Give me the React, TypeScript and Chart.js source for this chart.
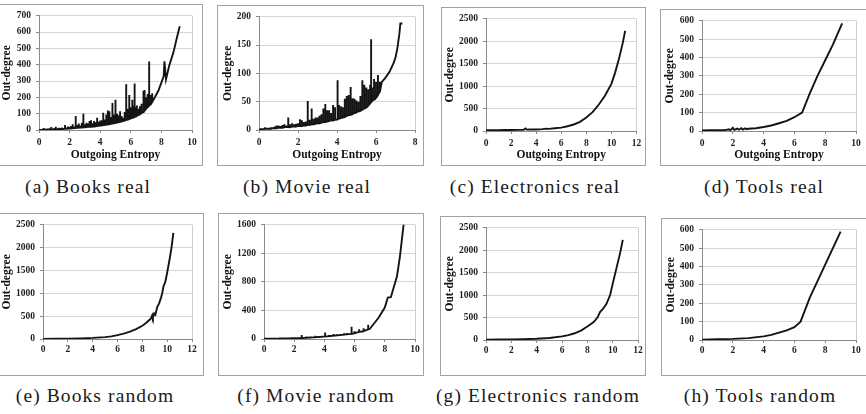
import React, { useEffect, useRef } from "react";
import { Chart, registerables } from "chart.js";

Chart.register(...registerables);

type Pt = [number, number];
// A spike is a vertical run at one entropy value: [x, lowest out-degree, highest out-degree]
type Spike = [number, number, number];

// ---- (a) Books real ----
const booksRealSpikes: Spike[] = [
  [0, 0, 1], [0.1, 1, 4], [0.2, 1, 6], [0.3, 2, 12], [0.4, 2, 5], [0.5, 3, 8], [0.6, 3, 6],
  [0.7, 3, 10], [0.8, 4, 18], [0.9, 4, 9], [1.0, 5, 12], [1.1, 5, 20], [1.2, 5, 10],
  [1.3, 6, 14], [1.4, 6, 12], [1.5, 7, 16], [1.6, 7, 12], [1.7, 8, 30], [1.8, 8, 16],
  [1.9, 9, 22], [2.0, 10, 18], [2.1, 10, 25], [2.2, 11, 35], [2.3, 12, 22], [2.4, 12, 85],
  [2.5, 13, 30], [2.6, 14, 40], [2.7, 15, 28], [2.8, 16, 45], [2.9, 16, 100], [3.0, 17, 35],
  [3.1, 18, 45], [3.2, 19, 40], [3.3, 20, 55], [3.4, 21, 60], [3.5, 21, 42], [3.6, 22, 55],
  [3.7, 23, 48], [3.8, 25, 75], [3.9, 26, 50], [4.0, 27, 58], [4.1, 28, 60], [4.2, 30, 105],
  [4.3, 31, 65], [4.4, 33, 95], [4.5, 34, 120], [4.6, 36, 115], [4.7, 38, 80], [4.8, 40, 165],
  [4.9, 42, 95], [5.0, 43, 185], [5.1, 46, 100], [5.2, 48, 90], [5.3, 50, 115], [5.4, 52, 85],
  [5.5, 55, 75], [5.6, 58, 110], [5.7, 61, 280], [5.8, 64, 130], [5.9, 67, 215], [6.0, 71, 140],
  [6.1, 74, 185], [6.2, 78, 150], [6.25, 80, 285], [6.3, 83, 140], [6.4, 87, 150],
  [6.5, 92, 130], [6.6, 97, 145], [6.7, 103, 160], [6.8, 110, 175], [6.85, 113, 240],
  [6.9, 118, 245], [7.0, 130, 200], [7.1, 140, 220], [7.2, 150, 420], [7.3, 160, 215],
  [7.4, 172, 225],
];
const booksRealTail: Pt[] = [
  [7.6, 205], [7.8, 240], [8.0, 290], [8.15, 330], [8.2, 420], [8.3, 310], [8.5, 390],
  [8.8, 480], [9.0, 560], [9.2, 635],
];
const booksRealXTicks = [0, 2, 4, 6, 8, 10];
const booksRealYTicks = [0, 100, 200, 300, 400, 500, 600, 700];

// ---- (b) Movie real ----
const movieRealSpikes: Spike[] = [
  [0, 1, 2], [0.1, 1, 3], [0.2, 1, 3], [0.3, 2, 5], [0.4, 2, 4], [0.5, 2, 4], [0.6, 2, 5],
  [0.7, 3, 5], [0.8, 3, 6], [0.9, 3, 8], [1.0, 4, 8], [1.1, 4, 7], [1.2, 4, 9], [1.3, 5, 10],
  [1.4, 5, 8], [1.5, 5, 22], [1.6, 5, 10], [1.7, 6, 12], [1.8, 6, 10], [1.9, 6, 11],
  [2.0, 7, 12], [2.1, 7, 19], [2.2, 7, 17], [2.3, 8, 14], [2.4, 8, 15], [2.5, 9, 51],
  [2.6, 9, 18], [2.7, 10, 38], [2.8, 10, 20], [2.9, 11, 22], [3.0, 12, 22], [3.1, 12, 25],
  [3.2, 13, 28], [3.3, 14, 38], [3.4, 14, 46], [3.5, 15, 35], [3.6, 16, 35], [3.7, 17, 30],
  [3.8, 17, 44], [3.9, 18, 40], [4.0, 19, 35], [4.05, 19, 88], [4.1, 20, 44], [4.2, 21, 42],
  [4.3, 22, 40], [4.4, 23, 55], [4.5, 25, 60], [4.6, 26, 62], [4.7, 27, 76], [4.8, 28, 56],
  [4.9, 30, 55], [5.0, 31, 52], [5.1, 33, 50], [5.2, 34, 60], [5.3, 36, 88], [5.4, 38, 80],
  [5.5, 40, 75], [5.6, 43, 72], [5.7, 47, 80], [5.75, 49, 160], [5.8, 51, 75], [5.9, 54, 90],
  [6.0, 57, 85], [6.1, 62, 97], [6.2, 68, 85],
];
const movieRealTail: Pt[] = [
  [6.3, 85], [6.5, 93], [6.7, 103], [6.9, 118], [7.0, 128], [7.1, 145], [7.2, 170],
  [7.25, 188], [7.35, 188],
];
const movieRealXTicks = [0, 2, 4, 6, 8];
const movieRealYTicks = [0, 50, 100, 150, 200];

// ---- (c) Electronics real ----
const electronicsReal: Pt[] = [
  [0, 18], [0.5, 20], [1, 20], [1.5, 22], [2, 22], [2.5, 25], [3, 28], [3.15, 55], [3.25, 30],
  [3.5, 32], [4, 35], [4.5, 42], [4.8, 52], [5, 48], [5.5, 60], [6, 75], [6.5, 105], [7, 145],
  [7.5, 205], [8, 300], [8.5, 420], [9, 590], [9.5, 790], [10, 1050], [10.3, 1300],
  [10.6, 1600], [10.9, 1950], [11.1, 2230],
];
const electronicsRealXTicks = [0, 2, 4, 6, 8, 10, 12];
const electronicsRealYTicks = [0, 500, 1000, 1500, 2000, 2500];

// ---- (d) Tools real ----
const toolsReal: Pt[] = [
  [0, 3], [0.5, 4], [1, 4], [1.5, 5], [1.75, 9], [1.85, 4], [2.0, 18], [2.1, 6], [2.3, 13],
  [2.4, 7], [2.55, 15], [2.65, 8], [2.8, 14], [2.9, 10], [3, 12], [3.5, 15], [4, 22],
  [4.5, 30], [5, 42], [5.5, 55], [6, 75], [6.5, 100], [7, 205], [7.5, 300], [8, 385],
  [8.5, 470], [9.1, 585],
];
const toolsRealXTicks = [0, 2, 4, 6, 8, 10];
const toolsRealYTicks = [0, 100, 200, 300, 400, 500, 600];

// ---- (e) Books random ----
const booksRandom: Pt[] = [
  [0, 3], [1, 5], [2, 8], [3, 14], [4, 24], [5, 42], [5.5, 58], [6, 85], [6.5, 118], [7, 160],
  [7.5, 215], [8, 290], [8.3, 350], [8.5, 400], [8.7, 450], [8.8, 520], [8.85, 470],
  [8.95, 560], [9.05, 530], [9.2, 700], [9.35, 780], [9.5, 900], [9.6, 1000], [9.7, 1150],
  [9.85, 1250], [10, 1450], [10.2, 1750], [10.35, 2000], [10.5, 2320],
];
const booksRandomXTicks = [0, 2, 4, 6, 8, 10, 12];
const booksRandomYTicks = [0, 500, 1000, 1500, 2000, 2500];

// ---- (f) Movie random ----
const movieRandomSpikes: Spike[] = [
  [0, 3, 3], [0.5, 4, 6], [1.0, 6, 10], [1.5, 9, 18], [2.0, 12, 20], [2.5, 15, 55],
  [2.8, 17, 35], [3.1, 21, 30], [3.4, 25, 45], [3.7, 30, 40], [4.05, 36, 90], [4.3, 40, 55],
  [4.6, 46, 70], [4.8, 50, 65], [5.1, 57, 70], [5.3, 62, 80], [5.5, 66, 85], [5.8, 72, 170],
  [6.0, 82, 110], [6.3, 100, 135], [6.6, 110, 150], [6.9, 135, 200],
];
const movieRandomTail: Pt[] = [
  [7, 140], [7.3, 220], [7.6, 300], [8, 440], [8.2, 580], [8.4, 585], [8.8, 870], [9, 1150],
  [9.25, 1610],
];
const movieRandomXTicks = [0, 2, 4, 6, 8, 10];
const movieRandomYTicks = [0, 400, 800, 1200, 1600];

// ---- (g) Electronics random ----
const electronicsRandom: Pt[] = [
  [0, 8], [1, 10], [2, 13], [3, 18], [4, 28], [5, 45], [6, 80], [6.5, 110], [7, 150],
  [7.5, 210], [8, 300], [8.5, 400], [8.8, 500], [9, 620], [9.2, 680], [9.5, 800], [9.8, 1000],
  [10, 1250], [10.3, 1600], [10.6, 1950], [10.8, 2230],
];
const electronicsRandomXTicks = [0, 2, 4, 6, 8, 10, 12];
const electronicsRandomYTicks = [0, 500, 1000, 1500, 2000, 2500];

// ---- (h) Tools random ----
const toolsRandom: Pt[] = [
  [0, 2], [1, 4], [2, 6], [3, 10], [4, 20], [4.5, 28], [5, 40], [5.5, 52], [6, 70],
  [6.4, 100], [7, 230], [7.5, 320], [8, 410], [8.5, 500], [9, 590],
];
const toolsRandomXTicks = [0, 2, 4, 6, 8, 10];
const toolsRandomYTicks = [0, 100, 200, 300, 400, 500, 600];

const captions = [
  "(a) Books real", "(b) Movie real", "(c) Electronics real", "(d) Tools real",
  "(e) Books random", "(f) Movie random", "(g) Electronics random", "(h) Tools random",
];

const X_TITLE = "Outgoing Entropy";
const Y_TITLE = "Out-degree";

// Spikes become up-and-back vertical strokes, followed by the smooth upper tail.
function series(spikes: Spike[], tail: Pt[]): Pt[] {
  const out: Pt[] = [];
  for (const [x, lo, hi] of spikes) {
    out.push([x, lo], [x, hi], [x, lo]);
  }
  return out.concat(tail);
}

type PanelCfg = {
  points: Pt[];
  xTicks: number[];
  yTicks: number[];
  box: [number, number, number, number]; // left, top, width, height (border included)
  plot: [number, number, number, number]; // left, top, right, bottom in page px
  yTitleX: number;
  xLabelY: number;
  xTitleY: number | null;
  caption: string;
  capX: number;
  capBase: number;
};

const panels: PanelCfg[] = [
  { points: series(booksRealSpikes, booksRealTail), xTicks: booksRealXTicks, yTicks: booksRealYTicks, box: [-1, 4, 204, 162], plot: [39, 13, 192, 130], yTitleX: 7, xLabelY: 142.5, xTitleY: 155, caption: captions[0], capX: 88, capBase: 193 },
  { points: series(movieRealSpikes, movieRealTail), xTicks: movieRealXTicks, yTicks: movieRealYTicks, box: [217, 5, 207, 161], plot: [259, 14, 415, 130], yTitleX: 228, xLabelY: 142.5, xTitleY: 155, caption: captions[1], capX: 307, capBase: 193 },
  { points: electronicsReal, xTicks: electronicsRealXTicks, yTicks: electronicsRealYTicks, box: [441, 7, 205, 159], plot: [486, 15, 638, 131], yTitleX: 450, xLabelY: 143.5, xTitleY: 155, caption: captions[2], capX: 535, capBase: 193 },
  { points: toolsReal, xTicks: toolsRealXTicks, yTicks: toolsRealYTicks, box: [660, 9, 212, 157], plot: [702, 17, 856, 131], yTitleX: 670, xLabelY: 143.5, xTitleY: 155, caption: captions[3], capX: 764, capBase: 193 },
  { points: booksRandom, xTicks: booksRandomXTicks, yTicks: booksRandomYTicks, box: [-1, 213, 205, 163], plot: [43, 221, 192, 339], yTitleX: 7, xLabelY: 350, xTitleY: null, caption: captions[4], capX: 95, capBase: 402 },
  { points: series(movieRandomSpikes, movieRandomTail), xTicks: movieRandomXTicks, yTicks: movieRandomYTicks, box: [218, 213, 206, 163], plot: [264, 222, 415, 339], yTitleX: 228, xLabelY: 349.5, xTitleY: null, caption: captions[5], capX: 316, capBase: 402 },
  { points: electronicsRandom, xTicks: electronicsRandomXTicks, yTicks: electronicsRandomYTicks, box: [440, 216, 206, 160], plot: [486, 224, 638, 340], yTitleX: 450, xLabelY: 350.5, xTitleY: null, caption: captions[6], capX: 538, capBase: 402 },
  { points: toolsRandom, xTicks: toolsRandomXTicks, yTicks: toolsRandomYTicks, box: [661, 218, 212, 158], plot: [702, 227, 856, 340], yTitleX: 671, xLabelY: 350.5, xTitleY: null, caption: captions[7], capX: 760, capBase: 402 },
];

const SERIF = "'Liberation Serif', 'Times New Roman', serif";
const TICK_FONT = { family: SERIF, size: 9.5, weight: "bold" as const, lineHeight: 1.2 };
const TITLE_FONT = { family: SERIF, size: 11.5, weight: "bold" as const, lineHeight: 1 };
const TICK_LEN = 3;

function Panel({ cfg }: { cfg: PanelCfg }) {
  const ref = useRef<HTMLCanvasElement | null>(null);
  const [bx, by, bw, bh] = cfg.box;
  const cx = bx + 1;
  const cy = by + 1;
  const cw = bw - 2;
  const ch = bh - 2;

  useEffect(() => {
    const canvas = ref.current;
    if (!canvas) return;
    const [px0, py0, px1, py1] = cfg.plot;
    const yAxisW = px0 - cx;
    const xAxisH = cy + ch - py1;
    const padTop = py0 - cy;
    const padRight = cx + cw - px1;
    const xs = cfg.xTicks;
    const ys = cfg.yTicks;
    const tickLineH = TICK_FONT.size * TICK_FONT.lineHeight;
    const xLabelPad = cfg.xLabelY - py1 - TICK_LEN - tickLineH / 2;
    const yTitlePad = Math.max(0, cfg.yTitleX - cx - TITLE_FONT.size / 2);
    const xTitlePad = cfg.xTitleY === null ? 0 : cy + ch - cfg.xTitleY - TITLE_FONT.size / 2;

    const chart = new Chart(canvas, {
      type: "line",
      data: {
        datasets: [
          {
            data: cfg.points.map(([x, y]) => ({ x, y })),
            borderColor: "#141414",
            borderWidth: 1.9,
            pointRadius: 0,
            tension: 0,
            fill: false,
            borderJoinStyle: "miter",
          },
        ],
      },
      options: {
        animation: false,
        responsive: false,
        maintainAspectRatio: false,
        layout: { padding: { left: 0, top: padTop, right: padRight, bottom: 0 } },
        plugins: { legend: { display: false }, tooltip: { enabled: false } },
        scales: {
          x: {
            type: "linear",
            min: xs[0],
            max: xs[xs.length - 1],
            afterBuildTicks: (s: any) => {
              s.ticks = xs.map((v) => ({ value: v }));
            },
            afterFit: (s: any) => {
              s.height = xAxisH;
            },
            ticks: {
              font: TICK_FONT,
              color: "#1e1e1e",
              padding: xLabelPad,
              maxRotation: 0,
              autoSkip: false,
              callback: (v: any) => String(v),
            },
            grid: {
              color: (c: any) => (c.index === xs.length - 1 ? "#cfcfcf" : "rgba(0,0,0,0)"),
              tickColor: "#8a8a8a",
              tickLength: TICK_LEN,
              lineWidth: 1,
            },
            border: { color: "#8a8a8a", width: 1 },
            title: {
              display: cfg.xTitleY !== null,
              text: X_TITLE,
              font: TITLE_FONT,
              color: "#111",
              padding: { top: 0, bottom: xTitlePad },
            },
          },
          y: {
            type: "linear",
            min: ys[0],
            max: ys[ys.length - 1],
            afterBuildTicks: (s: any) => {
              s.ticks = ys.map((v) => ({ value: v }));
            },
            afterFit: (s: any) => {
              s.width = yAxisW;
            },
            ticks: { font: TICK_FONT, color: "#1e1e1e", padding: 5, callback: (v: any) => String(v) },
            grid: { color: "#d6d6d6", tickColor: "#8a8a8a", tickLength: TICK_LEN, lineWidth: 1 },
            border: { color: "#8a8a8a", width: 1 },
            title: {
              display: true,
              text: Y_TITLE,
              font: TITLE_FONT,
              color: "#111",
              padding: { top: yTitlePad, bottom: 0 },
            },
          },
        },
      },
    } as any);
    return () => chart.destroy();
  }, [cfg]);

  return (
    <>
      <div
        style={{
          position: "absolute",
          left: bx,
          top: by,
          width: bw,
          height: bh,
          boxSizing: "border-box",
          border: "1px solid #a2a2a2",
          background: "#fff",
        }}
      />
      <canvas
        ref={ref}
        width={cw}
        height={ch}
        style={{ position: "absolute", left: cx, top: cy, width: cw, height: ch }}
      />
      <div
        style={{
          position: "absolute",
          left: cfg.capX - 150,
          width: 300,
          top: cfg.capBase - 16,
          textAlign: "center",
          fontFamily: "'Liberation Serif', serif",
          fontSize: 19.5,
          letterSpacing: "1.1px",
          lineHeight: "19px",
          color: "#1a1a1a",
          whiteSpace: "nowrap",
        }}
      >
        {cfg.caption}
      </div>
    </>
  );
}

export default function App() {
  return (
    <div
      style={{
        position: "fixed",
        left: 0,
        top: 0,
        width: 866,
        height: 414,
        background: "#fff",
        overflow: "hidden",
      }}
    >
      {panels.map((p, i) => (
        <Panel key={i} cfg={p} />
      ))}
    </div>
  );
}
